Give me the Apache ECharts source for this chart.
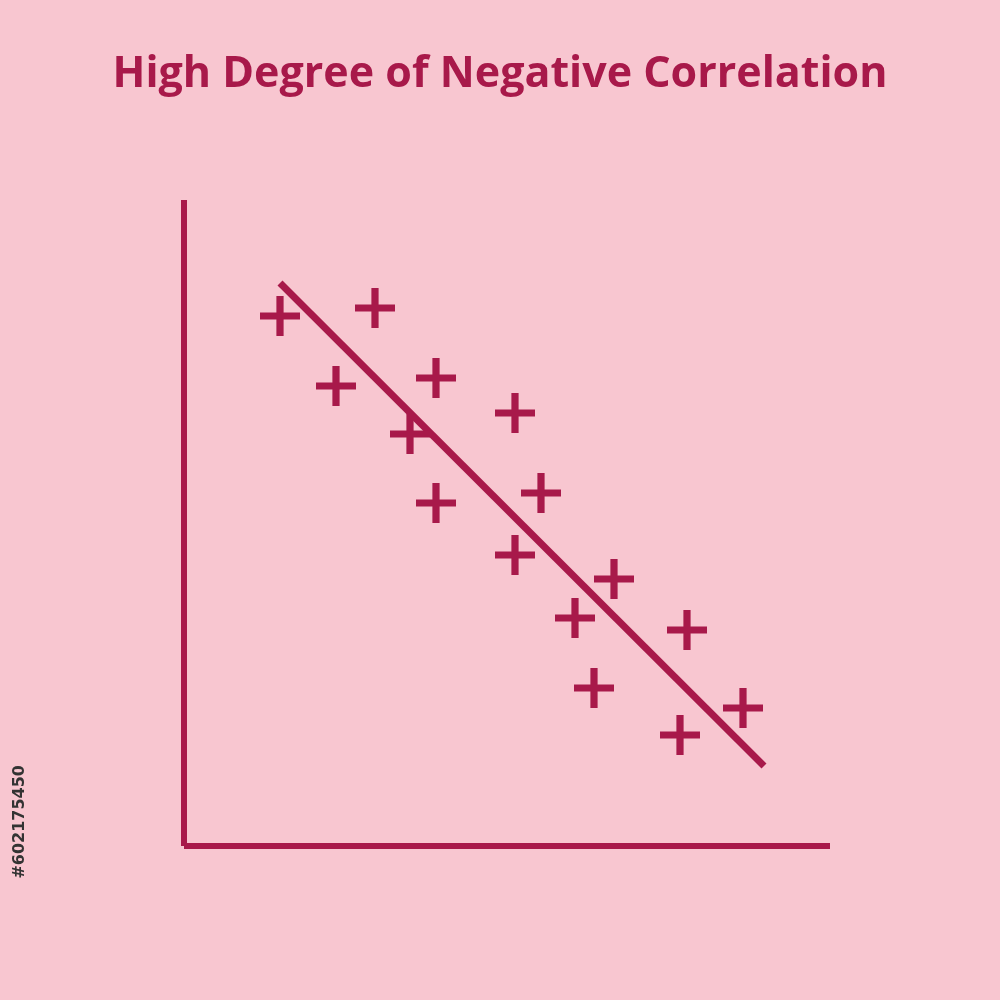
<!DOCTYPE html>
<html><head><meta charset="utf-8">
<script src="https://cdn.jsdelivr.net/npm/echarts@6/dist/echarts.min.js"></script>
<style>html,body{margin:0;padding:0;background:#F8C6D0}#c{width:1000px;height:1000px}</style>
</head><body><div id="c"></div>
<script>
const title = 'High Degree of Negative Correlation';
const pointsX = [280,375,336,436,410,515,436,541,515,614,575,687,594,743,680];
const pointsY = [530,538,460,468,412,433,343,353,291,267,228,216,158,138,111];
const trendX = [280,764];
const trendY = [563,80];
const color = '#A8194A';
const chart = echarts.init(document.getElementById('c'));
chart.setOption({
  backgroundColor:'#F8C6D0',
  title:{text:title,left:'center',top:48,textStyle:{color:color,fontSize:43,fontWeight:'bold',fontFamily:'Open Sans'}},
  grid:{left:184,top:200,width:646,height:646},
  xAxis:{type:'value',min:184,max:830,splitLine:{show:false},axisTick:{show:false},axisLabel:{show:false},
    axisLine:{show:true,onZero:false,lineStyle:{color:color,width:6,cap:'butt'}}},
  yAxis:{type:'value',min:0,max:646,splitLine:{show:false},axisTick:{show:false},axisLabel:{show:false},
    axisLine:{show:true,onZero:false,lineStyle:{color:color,width:6,cap:'butt'}}},
  graphic:[{type:'text',left:12,top:765,rotation:Math.PI/2,style:{text:'#602175450',fill:'#333',fontSize:16,fontWeight:'bold',fontFamily:'DejaVu Sans'}}],
  series:[
    {type:'line',data:trendX.map((x,i)=>[x,trendY[i]]),symbol:'none',lineStyle:{color:color,width:7},z:2},
    {type:'scatter',data:pointsX.map((x,i)=>[x,pointsY[i]]),symbol:'path://M4.1,0H5.9V4.1H10V5.9H5.9V10H4.1V5.9H0V4.1H4.1Z',symbolSize:40,itemStyle:{color:color,opacity:1},z:3}
  ]
});
</script></body></html>
